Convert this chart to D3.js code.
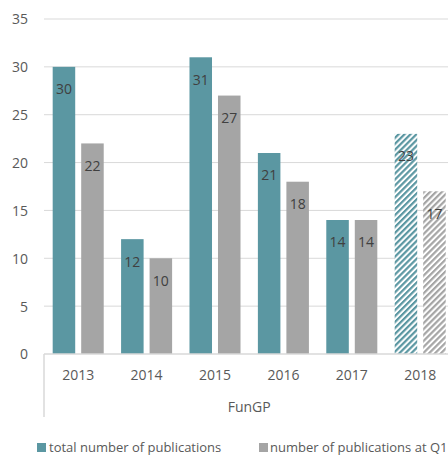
<!DOCTYPE html>
<html>
<head>
<meta charset="utf-8">
<script src="https://cdn.jsdelivr.net/npm/d3@7/dist/d3.min.js"></script>
<style>
  html, body { margin: 0; padding: 0; background: #fff; }
  svg { display: block; }
  text { font-family: "Open Sans", "Liberation Sans", sans-serif; }
</style>
</head>
<body>
<svg id="chart" width="448" height="455"></svg>
<script>
// Publications per year for the FunGP group
const years = ["2013", "2014", "2015", "2016", "2017", "2018"];
const seriesNames = ["total number of publications", "number of publications at Q1"];
const totalPubs = [30, 12, 31, 21, 14, 23];
const q1Pubs = [22, 10, 27, 18, 14, 17];
const projectedYears = ["2018"];          // partial-year figures, drawn hatched
const yTicks = [0, 5, 10, 15, 20, 25, 30, 35];
const groupLabel = "FunGP";

const colors = ["#5B97A2", "#A5A5A5"];
const fontSize = 14;
const legendFontSize = 13;
const svg = d3.select("#chart");

const y = d3.scaleLinear().domain([0, 35]).range([354, 19]);
const x = d3.scaleBand().domain(years).range([44, 454.4])
  .paddingInner(0.254).paddingOuter(0.127);
const xs = d3.scaleBand().domain(seriesNames).range([0, x.bandwidth()])
  .paddingInner(0.21);

// hatch patterns for projected bars
const defs = svg.append("defs");
colors.forEach((c, i) => {
  const p = defs.append("pattern")
    .attr("id", "hatch" + i)
    .attr("patternUnits", "userSpaceOnUse")
    .attr("width", 4.2).attr("height", 4.2)
    .attr("patternTransform", "rotate(45)");
  p.append("rect").attr("width", 4.2).attr("height", 4.2).attr("fill", "#fff");
  p.append("rect").attr("width", 2.2).attr("height", 4.2).attr("fill", c);
});

// horizontal gridlines
const gy = svg.append("g");
yTicks.filter(t => t !== 0).forEach(t => {
  gy.append("line")
    .attr("x1", 44).attr("x2", 448)
    .attr("y1", y(t)).attr("y2", y(t))
    .attr("stroke", "#D9D9D9").attr("stroke-width", 1);
});

// value axis labels
const yAxis = d3.axisLeft(y).tickValues(yTicks).tickSize(0).tickPadding(0);
const gyl = svg.append("g").attr("transform", "translate(28,0)").call(yAxis);
gyl.select(".domain").remove();
gyl.selectAll("text")
  .attr("fill", "#595959").attr("font-size", fontSize).attr("text-anchor", "end")
  .attr("dy", "0.35em");

// bars
const rows = years.map((yr, i) => ({ year: yr, values: [totalPubs[i], q1Pubs[i]] }));
const groups = svg.append("g").selectAll("g").data(rows).join("g")
  .attr("transform", d => `translate(${x(d.year)},0)`);

groups.selectAll("rect").data(d => d.values.map((v, k) => ({ v, k, year: d.year })))
  .join("rect")
  .attr("x", d => xs(seriesNames[d.k]))
  .attr("width", xs.bandwidth())
  .attr("y", d => y(d.v))
  .attr("height", d => y(0) - y(d.v))
  .attr("fill", d => projectedYears.includes(d.year) ? `url(#hatch${d.k})` : colors[d.k]);

groups.selectAll("text.val").data(d => d.values.map((v, k) => ({ v, k })))
  .join("text")
  .attr("class", "val")
  .attr("x", d => xs(seriesNames[d.k]) + xs.bandwidth() / 2)
  .attr("y", d => y(d.v) + 22.5)
  .attr("dy", "0.35em")
  .attr("text-anchor", "middle")
  .attr("font-size", fontSize)
  .attr("fill", "#404040")
  .text(d => d.v);

// category axis
svg.append("line").attr("x1", 44).attr("x2", 448).attr("y1", y(0)).attr("y2", y(0))
  .attr("stroke", "#D9D9D9").attr("stroke-width", 1.5);
svg.append("line").attr("x1", 44).attr("x2", 44).attr("y1", y(0)).attr("y2", 417)
  .attr("stroke", "#D9D9D9").attr("stroke-width", 1.5);

const xAxis = d3.axisBottom(x).tickSize(0).tickPadding(0);
const gx = svg.append("g").attr("transform", "translate(0,375)").call(xAxis);
gx.select(".domain").remove();
gx.selectAll("text").attr("fill", "#595959").attr("font-size", fontSize).attr("dy", "0.35em").attr("y", 0);

svg.append("text")
  .attr("x", (x.range()[0] + x.range()[1]) / 2).attr("y", 407).attr("dy", "0.35em")
  .attr("text-anchor", "middle").attr("font-size", fontSize).attr("fill", "#595959")
  .text(groupLabel);

// legend
const legendX = [37, 259];
const legendTextX = [12, 11];
const lg = svg.append("g").selectAll("g").data(seriesNames).join("g")
  .attr("transform", (d, i) => `translate(${legendX[i]},443)`);
lg.append("rect").attr("width", 9).attr("height", 9).attr("fill", (d, i) => colors[i]);
lg.append("text").attr("x", (d, i) => legendTextX[i]).attr("y", 4.5).attr("dy", "0.35em")
  .attr("font-size", legendFontSize).attr("fill", "#595959").text(d => d);
</script>
</body>
</html>
